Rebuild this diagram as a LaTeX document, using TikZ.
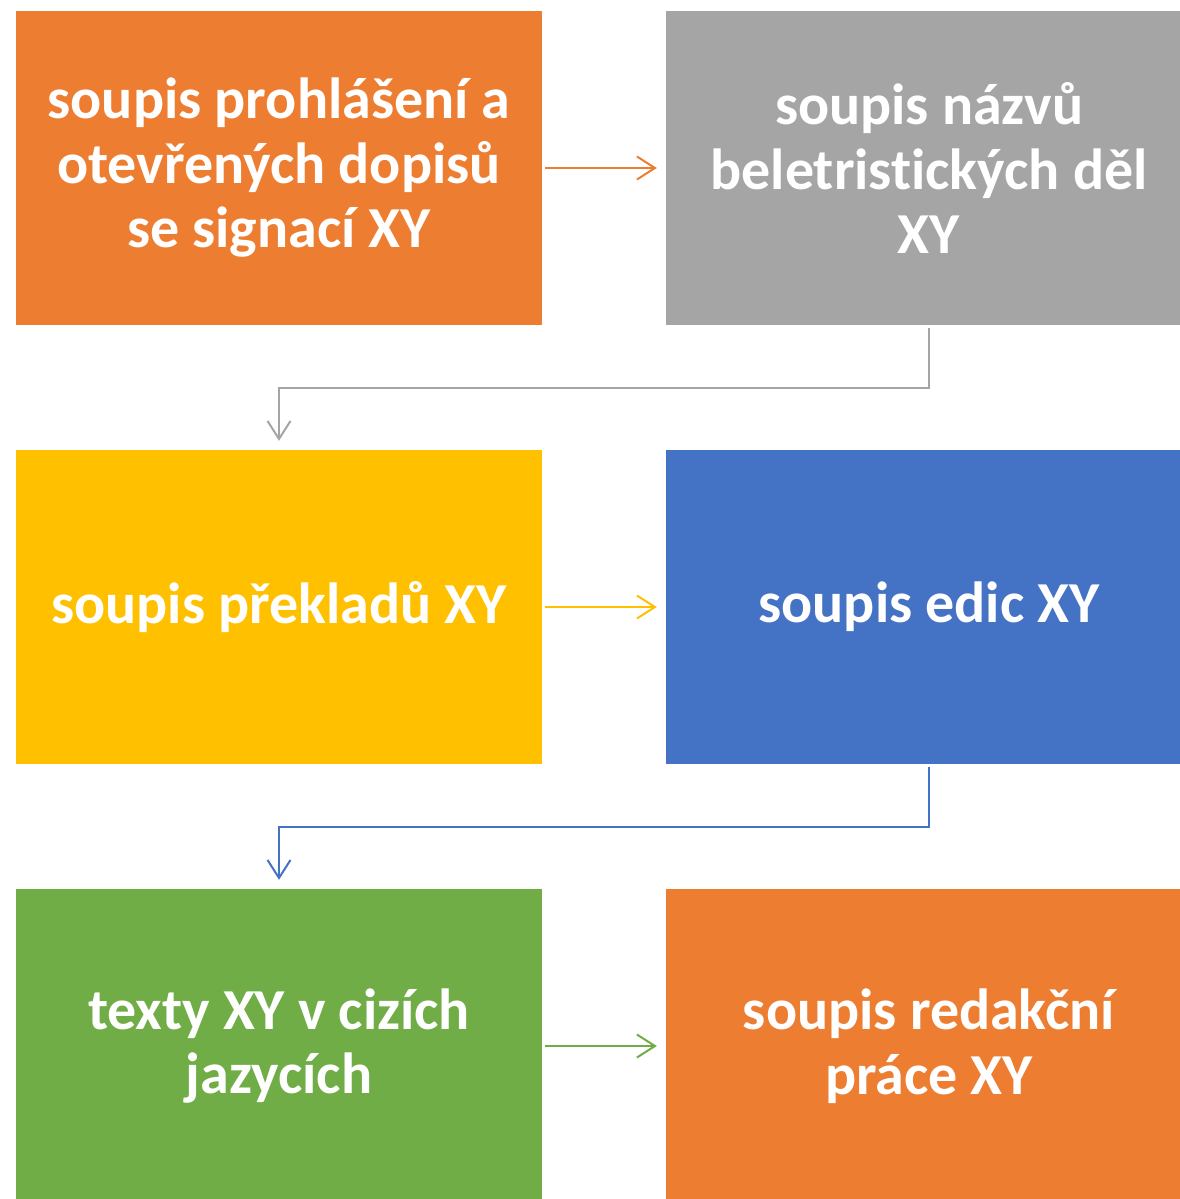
\documentclass[tikz,border=0pt]{standalone}
\usepackage{fontspec}
\setmainfont[Ligatures=CommonOff]{Carlito}
\usetikzlibrary{arrows.meta}
\definecolor{cOrange}{HTML}{ED7D31}
\definecolor{cGray}{HTML}{A5A5A5}
\definecolor{cYellow}{HTML}{FFC000}
\definecolor{cBlue}{HTML}{4472C4}
\definecolor{cGreen}{HTML}{70AD47}
\begin{document}
\begin{tikzpicture}[x=1pt,y=-1pt,
  box/.style={rectangle, inner sep=0pt, minimum width=526pt, minimum height=314pt,
    text=white, align=center, font=\fontsize{58}{64.5}\selectfont\bfseries},
  conn/.style={line width=2pt, -{Straight Barb[length=18pt,width=23pt,line width=2pt]},
    shorten <=3pt, shorten >=9pt}]
\useasboundingbox (0,0) rectangle (1179,1199);
\node[box, fill=cOrange] (b1) at (279,168) {soupis prohlášení a\\otevřených dopisů\\se signací XY};
\node[box, fill=cGray] (b2) at (929,168) {soupis názvů\\beletristických děl\\XY};
\node[box, fill=cYellow] (b3) at (279,607) {soupis překladů XY};
\node[box, fill=cBlue] (b4) at (929,607) {soupis edic XY};
\node[box, fill=cGreen] (b5) at (279,1046) {texty XY v cizích\\jazycích};
\node[box, fill=cOrange] (b6) at (929,1046) {soupis redakční\\práce XY};
\coordinate (m1) at (600,387.5);
\coordinate (m2) at (600,826.5);
\draw[conn, cOrange] (b1.east) -- (b2.west);
\draw[conn, cGray] (b2.south) |- (m1) -| (b3.north);
\draw[conn, cYellow] (b3.east) -- (b4.west);
\draw[conn, cBlue] (b4.south) |- (m2) -| (b5.north);
\draw[conn, cGreen] (b5.east) -- (b6.west);
\end{tikzpicture}
\end{document}
